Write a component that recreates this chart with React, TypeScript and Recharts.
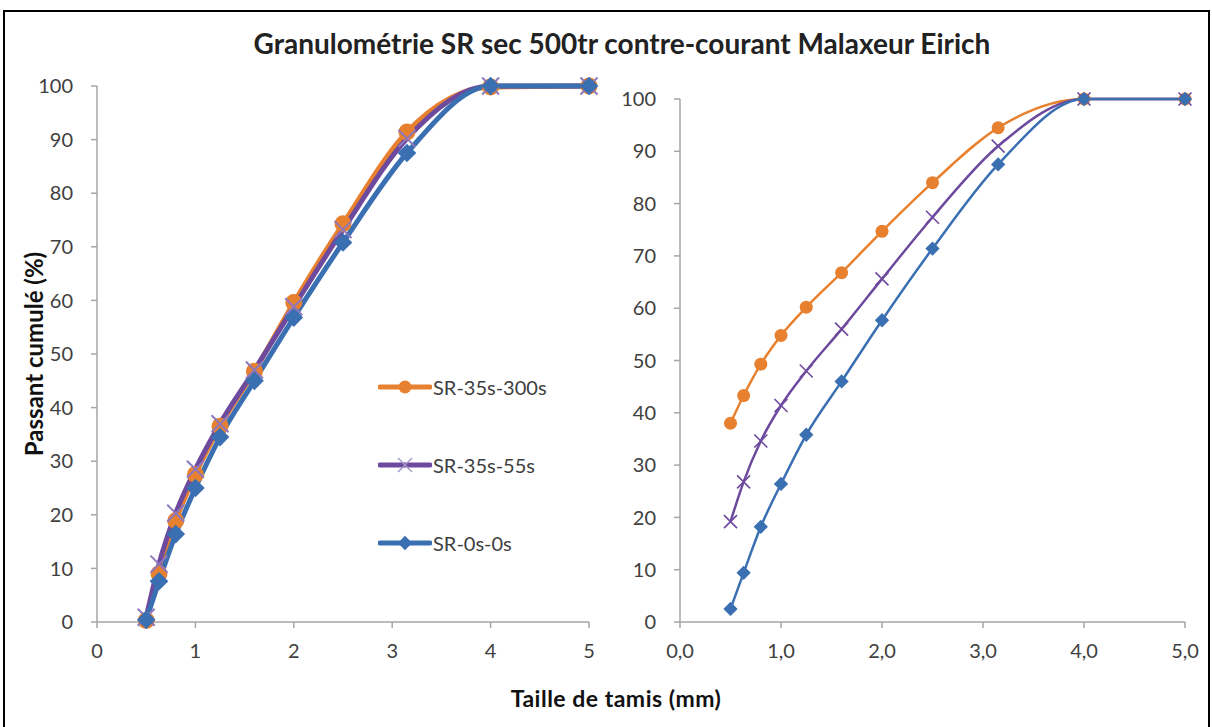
import { LineChart, Line, XAxis, YAxis } from "recharts";

// Sieve openings (mm)
const sieveSizes = [0.5, 0.63, 0.8, 1, 1.25, 1.6, 2, 2.5, 3.15, 4, 5];

const seriesNames = ["SR-35s-300s", "SR-35s-55s", "SR-0s-0s"];

// Left panel — cumulative passing (%)
const leftSR35s300s = [0.3, 9, 18.9, 27.5, 36.5, 46.8, 59.6, 74.3, 91.4, 99.8, 100];
const leftSR35s55s = [0.9, 10.8, 20.3, 28.5, 37, 47, 58.8, 73.2, 90.2, 100, 100];
const leftSR0s0s = [0.4, 7.6, 16.4, 25, 34.5, 45, 56.8, 70.8, 87.5, 100, 100];

// Right panel — cumulative passing (%)
const rightSR35s300s = [38, 43.3, 49.3, 54.8, 60.2, 66.8, 74.7, 84, 94.5, 100, 100];
const rightSR35s55s = [19.2, 26.8, 34.6, 41.4, 48, 56, 65.6, 77.4, 91, 100, 100];
const rightSR0s0s = [2.5, 9.4, 18.2, 26.4, 35.8, 46, 57.7, 71.4, 87.5, 100, 100];

const xTicks = [0, 1, 2, 3, 4, 5];
const yTicks = [0, 10, 20, 30, 40, 50, 60, 70, 80, 90, 100];

const ORANGE = "#E8812F";
const PURPLE = "#6E4A9E";
const BLUE = "#3A6FB2";
const FONT = "Lato, 'Open Sans', sans-serif";

type MarkerKind = "circle" | "cross" | "diamond";

const seriesKeys = ["sr300", "sr55", "sr0"] as const;
const seriesColors = [ORANGE, PURPLE, BLUE];
const seriesMarkers: MarkerKind[] = ["circle", "cross", "diamond"];

function buildRows(a: number[], b: number[], c: number[]) {
  return sieveSizes.map((size, i) => ({ size, sr300: a[i], sr55: b[i], sr0: c[i] }));
}

const leftRows = buildRows(leftSR35s300s, leftSR35s55s, leftSR0s0s);
const rightRows = buildRows(rightSR35s300s, rightSR35s55s, rightSR0s0s);

function Marker({
  kind,
  cx,
  cy,
  size,
  color,
  crossColor,
  crossWidth = 1.6,
}: {
  kind: MarkerKind;
  cx?: number;
  cy?: number;
  size: number;
  color: string;
  crossColor?: string;
  crossWidth?: number;
}) {
  if (cx == null || cy == null) return null;
  const r = size / 2;
  if (kind === "circle") return <circle cx={cx} cy={cy} r={r} fill={color} />;
  if (kind === "cross")
    return (
      <path
        d={`M${cx - r},${cy - r}L${cx + r},${cy + r}M${cx - r},${cy + r}L${cx + r},${cy - r}`}
        stroke={crossColor ?? color}
        strokeWidth={crossWidth}
        fill="none"
      />
    );
  const d = r * 1.1;
  return (
    <path d={`M${cx},${cy - d}L${cx + d},${cy}L${cx},${cy + d}L${cx - d},${cy}Z`} fill={color} />
  );
}

const tickStyle = { fill: "#404040", fontSize: 20, fontFamily: FONT };
const axisStroke = { stroke: "#A6A6A6", strokeWidth: 1.5 };

function LegendBox() {
  return (
    <div style={{ display: "flex", flexDirection: "column", fontFamily: FONT }}>
      {seriesNames.map((name, i) => (
        <div key={name} style={{ display: "flex", alignItems: "center", height: 78 }}>
          <svg width={54} height={20}>
            <line x1={2} y1={10} x2={52} y2={10} stroke={seriesColors[i]} strokeWidth={5} strokeLinecap="round" />
            <Marker
              kind={seriesMarkers[i]}
              cx={27}
              cy={10}
              size={seriesMarkers[i] === "cross" ? 14 : 13}
              color={seriesColors[i]}
              crossColor="#A493C9"
              crossWidth={1.4}
            />
          </svg>
          <span style={{ fontSize: 20, color: "#404040", marginLeft: 1 }}>{name}</span>
        </div>
      ))}
    </div>
  );
}

function Panel({
  rows,
  width,
  height,
  margin,
  yAxisWidth,
  lineWidth,
  markerSize,
  xFormat,
}: {
  rows: ReturnType<typeof buildRows>;
  width: number;
  height: number;
  margin: { top: number; right: number; bottom: number; left: number };
  yAxisWidth: number;
  lineWidth: number;
  markerSize: number;
  xFormat: (v: number) => string;
}) {
  const thick = lineWidth > 3;
  return (
    <LineChart width={width} height={height} data={rows} margin={margin}>
      <XAxis
        type="number"
        dataKey="size"
        domain={[0, 5]}
        ticks={xTicks}
        tickFormatter={xFormat}
        tick={tickStyle}
        axisLine={axisStroke}
        tickLine={axisStroke}
        tickSize={6}
        tickMargin={16}
        height={40}
        interval={0}
      />
      <YAxis
        type="number"
        domain={[0, 100]}
        ticks={yTicks}
        tick={tickStyle}
        axisLine={axisStroke}
        tickLine={axisStroke}
        tickSize={6}
        tickMargin={18}
        width={yAxisWidth}
        interval={0}
      />
      {seriesKeys.map((key, i) => (
        <Line
          key={key}
          type="monotone"
          dataKey={key}
          name={seriesNames[i]}
          stroke={seriesColors[i]}
          strokeWidth={lineWidth}
          isAnimationActive={false}
          activeDot={false}
          dot={(p: any) => (
            <Marker
              key={`${key}-${p.index}`}
              kind={seriesMarkers[i]}
              cx={p.cx}
              cy={p.cy}
              size={markerSize}
              color={seriesColors[i]}
              crossColor={thick ? "#8E78BD" : PURPLE}
              crossWidth={thick ? 2 : 1.6}
            />
          )}
        />
      ))}
    </LineChart>
  );
}

export default function App() {
  return (
    <div
      style={{
        position: "absolute",
        left: 0,
        top: 0,
        width: 1212,
        height: 727,
        background: "#fff",
        overflow: "hidden",
        fontFamily: FONT,
      }}
    >
      <div
        style={{
          position: "absolute",
          left: 3,
          top: 10,
          width: 1203,
          height: 740,
          border: "2px solid #000",
        }}
      />
      <div
        style={{
          position: "absolute",
          left: 0,
          width: 1212,
          top: 26,
          textAlign: "center",
          fontSize: 28,
          fontWeight: 700,
          color: "#222",
          paddingLeft: 32,
          boxSizing: "border-box",
        }}
      >
        Granulométrie SR sec 500tr contre-courant Malaxeur Eirich
      </div>
      <div
        style={{
          position: "absolute",
          left: 33,
          top: 354,
          transform: "translate(-50%, -50%) rotate(-90deg)",
          whiteSpace: "nowrap",
          fontSize: 24,
          fontWeight: 700,
          color: "#111",
        }}
      >
        Passant cumulé (%)
      </div>
      <div
        style={{
          position: "absolute",
          left: 0,
          width: 1212,
          top: 684,
          textAlign: "center",
          fontSize: 23,
          fontWeight: 700,
          letterSpacing: 0.5,
          color: "#111",
          paddingLeft: 20,
          boxSizing: "border-box",
        }}
      >
        Taille de tamis (mm)
      </div>

      <div style={{ position: "absolute", left: 20, top: 70 }}>
        <Panel
          rows={leftRows}
          width={580}
          height={592}
          margin={{ top: 16, right: 11, bottom: 0, left: 0 }}
          yAxisWidth={77}
          lineWidth={5}
          markerSize={17}
          xFormat={(v) => String(v)}
        />
      </div>

      <div style={{ position: "absolute", left: 378, top: 348 }}>
        <LegendBox />
      </div>

      <div style={{ position: "absolute", left: 610, top: 70 }}>
        <Panel
          rows={rightRows}
          width={590}
          height={592}
          margin={{ top: 29, right: 15, bottom: 0, left: 0 }}
          yAxisWidth={70}
          lineWidth={2.5}
          markerSize={13}
          xFormat={(v) => v.toFixed(1).replace(".", ",")}
        />
      </div>
    </div>
  );
}
